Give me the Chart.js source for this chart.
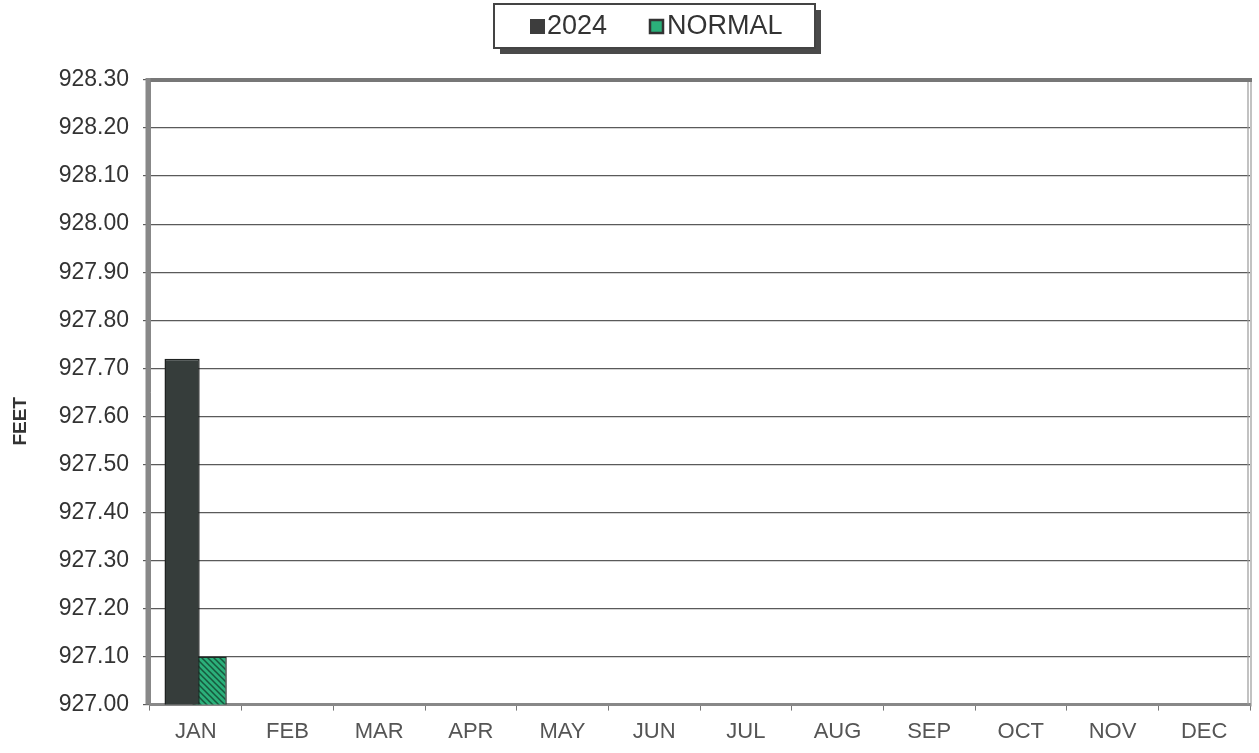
<!DOCTYPE html>
<html>
<head>
<meta charset="utf-8">
<script src="https://cdn.jsdelivr.net/npm/chart.js@4.4.1/dist/chart.umd.min.js"></script>
<style>
html,body{margin:0;padding:0;background:#fff;}
#wrap{width:1259px;height:753px;position:relative;}
</style>
</head>
<body>
<div id="wrap"><canvas id="c" width="1259" height="753"></canvas></div>
<script>
const months = ['JAN','FEB','MAR','APR','MAY','JUN','JUL','AUG','SEP','OCT','NOV','DEC'];
const values2024 = [927.72, null, null, null, null, null, null, null, null, null, null, null];
const valuesNormal = [927.10, null, null, null, null, null, null, null, null, null, null, null];
const seriesNames = ['2024', 'NORMAL'];
const yMin = 927.00, yMax = 928.30, yStep = 0.10;
const FONT = 'Liberation Sans, Arial, sans-serif';

function hatch(){
  const p = document.createElement('canvas');
  p.width = 6; p.height = 6;
  const g = p.getContext('2d');
  g.fillStyle = '#2bb07a'; g.fillRect(0,0,6,6);
  g.strokeStyle = '#17583d'; g.lineWidth = 1.5;
  g.beginPath();
  g.moveTo(-1,-1); g.lineTo(7,7);
  g.moveTo(-4,2); g.lineTo(4,10);
  g.moveTo(2,-4); g.lineTo(10,4);
  g.stroke();
  return g.createPattern(p,'repeat');
}
const ctx = document.getElementById('c').getContext('2d');
const pat = hatch();

const legendBox = {
  id:'legendBox',
  afterDraw(chart){
    const c = chart.ctx;
    const x = 494, y = 4, w = 321, h = 44;
    c.save();
    c.fillStyle = '#4a4a4a';
    c.fillRect(x+6, y+h, w, 6);
    c.fillRect(x+w, y+6, 6, h);
    c.fillStyle = '#fff';
    c.fillRect(x, y, w, h);
    c.strokeStyle = '#444'; c.lineWidth = 2;
    c.strokeRect(x, y, w, h);
    c.fillStyle = '#3d3d3d';
    c.fillRect(530, 19, 15, 15);
    c.fillStyle = '#2bb07a';
    c.fillRect(650, 20, 13, 13);
    c.strokeStyle = '#333'; c.lineWidth = 2.5;
    c.strokeRect(650, 20, 13, 13);
    c.fillStyle = '#333';
    c.font = '27px ' + FONT;
    c.textBaseline = 'middle';
    c.fillText(seriesNames[0], 547, 27);
    c.fillText(seriesNames[1], 667, 27);
    c.restore();
  }
};
const frame = {
  id:'frame',
  afterDraw(chart){
    const a = chart.chartArea, c = chart.ctx;
    c.save();
    c.strokeStyle = '#999'; c.lineWidth = 1.2;
    c.beginPath(); c.moveTo(a.right-2, a.top); c.lineTo(a.right-2, a.bottom); c.stroke();
    c.beginPath(); c.moveTo(a.right+1, a.top); c.lineTo(a.right+1, a.bottom+2); c.stroke();
    c.strokeStyle = '#777'; c.lineWidth = 4;
    c.beginPath(); c.moveTo(a.left, a.top); c.lineTo(a.right+2, a.top); c.stroke();
    c.strokeStyle = '#888'; c.lineWidth = 5;
    c.beginPath(); c.moveTo(a.left-2, a.top-2); c.lineTo(a.left-2, a.bottom); c.stroke();
    c.restore();
  }
};

new Chart(ctx, {
  type:'bar',
  data:{
    labels: months,
    datasets:[
      {label:seriesNames[0], data: values2024, backgroundColor:'#363d3b', borderColor:'#1f2221', borderWidth:1.5, categoryPercentage:0.6, barPercentage:1.28},
      {label:seriesNames[1], data: valuesNormal, backgroundColor: pat, borderColor:'#1e2a24', borderWidth:1.5, categoryPercentage:0.6, barPercentage:1.25}
    ]
  },
  options:{
    responsive:false,
    animation:false,
    devicePixelRatio:1,
    layout:{padding:{left:0,right:9,top:80,bottom:0}},
    plugins:{
      legend:{display:false},
      tooltip:{enabled:false}
    },
    scales:{
      x:{
        grid:{display:true, drawOnChartArea:false, drawTicks:true, tickLength:6, color:'#777', offset:true},
        border:{display:true, color:'#888', width:3},
        ticks:{font:{family:FONT, size:22}, color:'#555', padding:8}
      },
      y:{
        min:yMin, max:yMax,
        afterFit(scale){ scale.width = 150; },
        ticks:{stepSize:yStep, font:{family:FONT, size:23}, color:'#333', padding:14,
          callback:(v)=>v.toFixed(2)},
        grid:{color:'#5a5a5a', lineWidth:1.2, tickLength:7, drawTicks:true},
        border:{display:true, color:'#888', width:1},
        title:{display:true, text:'FEET\u00a0\u00a0\u00a0\u00a0\u00a0\u00a0\u00a0\u00a0\u00a0\u00a0\u00a0', font:{family:FONT, size:19, weight:'bold'}, color:'#333', padding:{top:9,bottom:0}}
      }
    }
  },
  plugins:[legendBox, frame]
});
</script>
</body>
</html>
